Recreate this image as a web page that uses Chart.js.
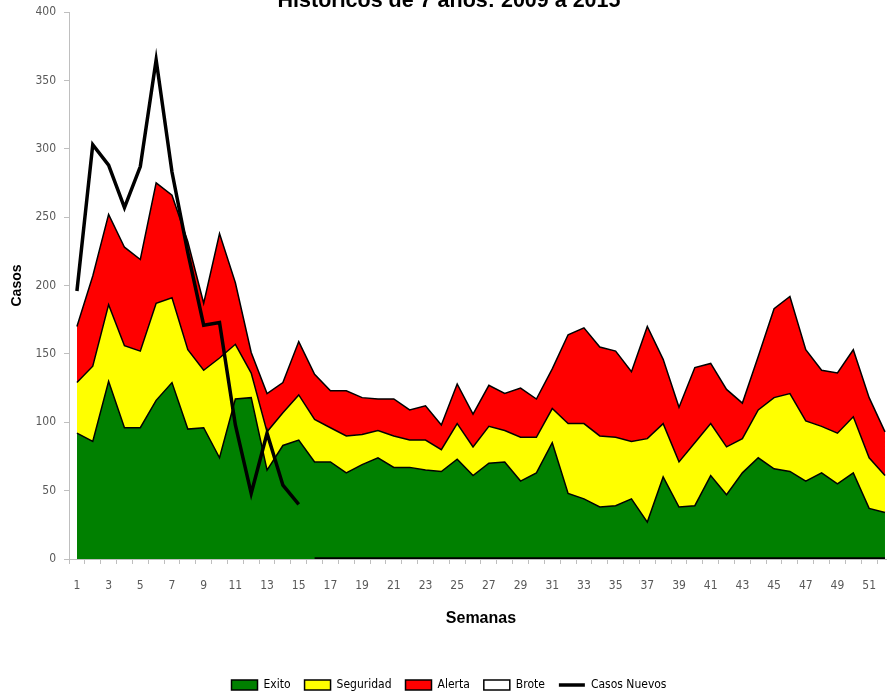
<!DOCTYPE html>
<html>
<head>
<meta charset="utf-8">
<script src="https://cdn.jsdelivr.net/npm/chart.js@4.4.1/dist/chart.umd.min.js"></script>
<style>
  html, body { margin: 0; padding: 0; overflow: hidden; background: #fff; }
  #wrap { position: absolute; left: 0; top: -23px; width: 900px; height: 724px; }
</style>
</head>
<body>
<div id="wrap"><canvas id="chart" width="900" height="724"></canvas></div>
<script>
var semanas = [];
for (var i = 1; i <= 52; i++) semanas.push(String(i));

var exito = [92, 86, 130, 96, 96, 116, 129, 95, 96, 74, 117, 118, 65, 83, 87, 71, 71, 63, 69, 74,
  67, 67, 65, 64, 73, 61, 70, 71, 57, 63, 85, 48, 44, 38, 39, 44, 27, 60, 38, 39,
  61, 47, 63, 74, 66, 64, 57, 63, 55, 63, 37, 34];
var seguridad = [37, 55, 56, 60, 56, 71, 62, 58, 42, 73, 40, 18, 28, 24, 33, 31, 25, 27, 22, 20,
  23, 20, 22, 16, 26, 21, 27, 23, 32, 26, 25, 51, 55, 52, 50, 42, 61, 39, 33, 46,
  38, 35, 25, 35, 52, 57, 44, 34, 37, 41, 37, 27];
var alerta = [41, 66, 66, 72, 67, 88, 75, 79, 49, 91, 45, 15, 28, 22, 39, 33, 27, 33, 27, 23,
  27, 22, 25, 18, 29, 24, 30, 27, 36, 28, 29, 65, 70, 65, 63, 51, 82, 47, 40, 55,
  44, 42, 26, 39, 65, 71, 52, 41, 44, 49, 44, 32];
var brote = [];
var casosNuevos = [196, 303, 288, 257, 287, 365, 283, 224, 171, 173, 98, 48, 92, 54, 40,
  0, 0, 0, 0, 0, 0, 0, 0, 0, 0, 0, 0, 0, 0, 0, 0, 0, 0, 0, 0, 0, 0, 0, 0, 0,
  0, 0, 0, 0, 0, 0, 0, 0, 0, 0, 0, 0];

var narrow = "'Liberation Sans Narrow', 'DejaVu Sans Condensed', 'Arial Narrow', sans-serif";
var bold = "'Liberation Sans', Arial, sans-serif";

var area = function (label, data, color, fill) {
  return {
    type: 'line',
    label: label,
    data: data,
    backgroundColor: color,
    borderColor: '#000',
    borderWidth: 1.5,
    fill: fill,
    tension: 0,
    pointRadius: 0,
    pointStyle: 'rect',
    stack: 'niveles',
    order: 1
  };
};

new Chart(document.getElementById('chart'), {
  type: 'line',
  data: {
    labels: semanas,
    datasets: [
      area('Exito', exito, '#008000', 'origin'),
      area('Seguridad', seguridad, '#ffff00', '-1'),
      area('Alerta', alerta, '#ff0000', '-1'),
      area('Brote', brote, '#ffffff', '-1'),
      {
        type: 'line',
        label: 'Casos Nuevos',
        data: casosNuevos,
        borderColor: '#000',
        backgroundColor: '#000',
        borderWidth: 3.5,
        fill: false,
        tension: 0,
        pointRadius: 0,
        pointStyle: 'line',
        stack: 'casos',
        order: 0,
        segment: {
          borderColor: function (ctx) {
            return (ctx.p0.parsed.y > 0 && ctx.p1.parsed.y === 0) ? 'transparent' : undefined;
          }
        }
      }
    ]
  },
  options: {
    responsive: false,
    animation: false,
    layout: { padding: { left: 0, right: 2, top: 0, bottom: 0 } },
    plugins: {
      tooltip: { enabled: false },
      title: {
        display: true,
        text: 'Históricos de 7 años: 2009 a 2015',
        color: '#000',
        font: { family: bold, size: 21.5, weight: 'bold', lineHeight: 1 },
        padding: { top: 13.5, bottom: 0 }
      },
      legend: {
        position: 'bottom',
        labels: {
          usePointStyle: true,
          pointStyleWidth: 26,
          boxHeight: 10,
          padding: 14,
          color: '#000',
          font: { family: narrow, size: 12 },
          sort: function (a, b) { return a.datasetIndex - b.datasetIndex; }
        }
      }
    },
    scales: {
      x: {
        type: 'category',
        offset: true,
        afterFit: function (scale) { scale.height = 106; },
        grid: { offset: true, drawOnChartArea: false, tickLength: 5, color: '#bfbfbf' },
        border: { color: '#bfbfbf' },
        ticks: {
          autoSkip: false,
          maxRotation: 0,
          padding: 15,
          color: '#595959',
          font: { family: narrow, size: 12 },
          callback: function (v, i) { return i % 2 === 0 ? this.getLabelForValue(v) : ''; }
        },
        title: {
          display: true,
          text: 'Semanas',
          color: '#000',
          font: { family: bold, size: 16, weight: 'bold', lineHeight: 1.2 },
          padding: { top: 0, bottom: 37 }
        }
      },
      y: {
        stacked: true,
        min: 0,
        max: 400,
        afterFit: function (scale) { scale.width = 69; },
        grid: { drawOnChartArea: false, tickLength: 5, color: '#bfbfbf' },
        border: { color: '#bfbfbf' },
        ticks: {
          stepSize: 50,
          padding: 8,
          color: '#595959',
          font: { family: narrow, size: 12 }
        },
        title: {
          display: true,
          text: 'Casos',
          color: '#000',
          font: { family: bold, size: 14, weight: 'bold', lineHeight: 1.2 },
          padding: { top: 9, bottom: 0 }
        }
      }
    }
  }
});
</script>
</body>
</html>
